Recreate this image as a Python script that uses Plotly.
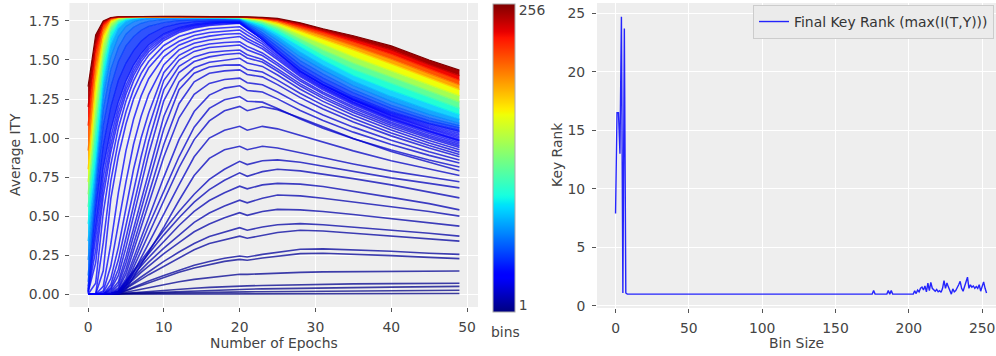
import plotly.graph_objects as go

# ---------------- data: left panel (Average I(T;Y) per epoch, one curve per bin count) -------------
epochs = [0, 1, 2, 3, 4, 5, 6, 7, 8, 10, 12, 14, 16, 18, 20, 21, 23, 25, 28, 31, 35, 40, 45, 49]

ity_bin01 = [0, 0, 0, 0, 0, 0, 0, 0, 0, 0.001, 0.001, 0.001, 0.002, 0.002, 0.002, 0.002, 0.002, 0.003, 0.003, 0.003, 0.003, 0.004, 0.004, 0.004]
ity_bin02 = [0, 0, 0, 0.001, 0.002, 0.003, 0.004, 0.005, 0.006, 0.008, 0.01, 0.011, 0.012, 0.014, 0.015, 0.015, 0.016, 0.017, 0.018, 0.019, 0.02, 0.022, 0.024, 0.025]
ity_bin03 = [0, 0, 0, 0.001, 0.002, 0.004, 0.006, 0.008, 0.01, 0.014, 0.018, 0.022, 0.026, 0.029, 0.032, 0.032, 0.034, 0.036, 0.038, 0.04, 0.042, 0.045, 0.047, 0.05]
ity_bin04 = [0, 0, 0, 0.001, 0.002, 0.006, 0.01, 0.014, 0.018, 0.025, 0.032, 0.038, 0.044, 0.049, 0.053, 0.053, 0.056, 0.058, 0.061, 0.063, 0.066, 0.068, 0.07, 0.07]
ity_bin05 = [0, 0, 0, 0.001, 0.003, 0.012, 0.022, 0.032, 0.042, 0.062, 0.08, 0.095, 0.107, 0.118, 0.128, 0.127, 0.132, 0.136, 0.14, 0.143, 0.145, 0.147, 0.148, 0.149]
ity_bin06 = [0, 0, 0, 0.001, 0.005, 0.022, 0.04, 0.058, 0.076, 0.11, 0.14, 0.168, 0.19, 0.21, 0.223, 0.217, 0.232, 0.245, 0.26, 0.262, 0.256, 0.247, 0.236, 0.228]
ity_bin07 = [0, 0, 0, 0.001, 0.005, 0.025, 0.045, 0.065, 0.085, 0.12, 0.155, 0.185, 0.21, 0.23, 0.245, 0.238, 0.255, 0.27, 0.288, 0.29, 0.285, 0.275, 0.262, 0.255]
ity_bin08 = [0, 0, 0, 0.002, 0.007, 0.035, 0.065, 0.095, 0.125, 0.18, 0.235, 0.285, 0.325, 0.35, 0.372, 0.358, 0.378, 0.395, 0.41, 0.405, 0.39, 0.372, 0.355, 0.34]
ity_bin09 = [0, 0, 0, 0.002, 0.008, 0.04, 0.075, 0.11, 0.145, 0.21, 0.27, 0.325, 0.37, 0.4, 0.426, 0.41, 0.43, 0.445, 0.452, 0.445, 0.43, 0.41, 0.39, 0.372]
ity_bin10 = [0, 0, 0, 0.002, 0.01, 0.05, 0.095, 0.14, 0.18, 0.26, 0.33, 0.4, 0.45, 0.49, 0.522, 0.505, 0.53, 0.543, 0.54, 0.53, 0.51, 0.485, 0.46, 0.436]
ity_bin11 = [0, 0, 0, 0.002, 0.01, 0.06, 0.11, 0.16, 0.205, 0.295, 0.38, 0.46, 0.52, 0.565, 0.602, 0.585, 0.615, 0.635, 0.63, 0.615, 0.59, 0.56, 0.53, 0.5]
ity_bin12 = [0, 0, 0, 0.003, 0.012, 0.07, 0.125, 0.18, 0.235, 0.34, 0.44, 0.53, 0.6, 0.65, 0.692, 0.675, 0.7, 0.71, 0.705, 0.69, 0.66, 0.62, 0.58, 0.54]
ity_bin13 = [0, 0, 0, 0.003, 0.015, 0.08, 0.14, 0.2, 0.26, 0.38, 0.49, 0.59, 0.67, 0.73, 0.777, 0.755, 0.785, 0.8, 0.79, 0.77, 0.74, 0.7, 0.655, 0.617]
ity_bin14 = [0, 0, 0, 0.004, 0.02, 0.085, 0.15, 0.215, 0.28, 0.41, 0.53, 0.64, 0.735, 0.8, 0.851, 0.83, 0.855, 0.86, 0.845, 0.82, 0.785, 0.745, 0.71, 0.681]
ity_bin15 = [0, 0, 0, 0, 0, 0.03, 0.11, 0.19, 0.27, 0.43, 0.6, 0.76, 0.87, 0.925, 0.947, 0.925, 0.947, 0.936, 0.906, 0.874, 0.834, 0.788, 0.75, 0.72]
ity_bin16 = [0, 0, 0, 0, 0.005, 0.05, 0.14, 0.235, 0.33, 0.52, 0.7, 0.88, 1.0, 1.05, 1.075, 1.05, 1.075, 1.059, 1.018, 0.974, 0.918, 0.855, 0.801, 0.76]
ity_bin17 = [0, 0, 0, 0, 0.01, 0.06, 0.17, 0.28, 0.39, 0.6, 0.81, 0.99, 1.11, 1.175, 1.203, 1.175, 1.2, 1.182, 1.129, 1.071, 0.997, 0.914, 0.844, 0.79]
ity_bin18 = [0, 0, 0, 0, 0.015, 0.08, 0.2, 0.32, 0.44, 0.66, 0.88, 1.07, 1.19, 1.245, 1.266, 1.236, 1.23, 1.189, 1.122, 1.063, 0.995, 0.923, 0.86, 0.815]
ity_bin19 = [0, 0, 0, 0, 0.02, 0.1, 0.23, 0.36, 0.49, 0.75, 0.99, 1.17, 1.275, 1.32, 1.335, 1.305, 1.295, 1.251, 1.177, 1.112, 1.038, 0.959, 0.889, 0.84]
ity_bin20 = [0, 0, 0, 0, 0.03, 0.13, 0.28, 0.43, 0.58, 0.88, 1.13, 1.28, 1.35, 1.375, 1.384, 1.354, 1.342, 1.295, 1.216, 1.148, 1.07, 0.986, 0.912, 0.86]
ity_bin21 = [0, 0, 0, 0.005, 0.04, 0.16, 0.32, 0.48, 0.64, 0.96, 1.22, 1.36, 1.415, 1.43, 1.437, 1.407, 1.392, 1.342, 1.259, 1.186, 1.103, 1.014, 0.936, 0.88]
ity_bin22 = [0, 0, 0, 0.01, 0.06, 0.2, 0.37, 0.54, 0.71, 1.06, 1.31, 1.415, 1.455, 1.467, 1.469, 1.439, 1.423, 1.371, 1.285, 1.211, 1.125, 1.033, 0.952, 0.895]
ity_bin23 = [0, 0, 0, 0.02, 0.08, 0.24, 0.42, 0.6, 0.78, 1.14, 1.36, 1.45, 1.485, 1.5, 1.511, 1.481, 1.459, 1.404, 1.313, 1.235, 1.146, 1.051, 0.969, 0.91]
ity_bin24 = [0, 0, 0, 0.03, 0.12, 0.3, 0.5, 0.7, 0.9, 1.24, 1.42, 1.49, 1.52, 1.535, 1.543, 1.513, 1.487, 1.428, 1.333, 1.254, 1.164, 1.067, 0.984, 0.925]
ity_bin25 = [0, 0, 0, 0.04, 0.16, 0.36, 0.57, 0.78, 0.98, 1.31, 1.46, 1.52, 1.548, 1.558, 1.564, 1.534, 1.503, 1.443, 1.347, 1.267, 1.176, 1.08, 0.999, 0.94]
ity_bin26 = [0, 0, 0, 0.06, 0.22, 0.44, 0.66, 0.88, 1.07, 1.37, 1.5, 1.555, 1.58, 1.59, 1.596, 1.566, 1.529, 1.466, 1.365, 1.283, 1.19, 1.092, 1.009, 0.95]
ity_bin27 = [0, 0, 0.01, 0.1, 0.3, 0.55, 0.8, 1.0, 1.16, 1.42, 1.53, 1.58, 1.602, 1.612, 1.617, 1.587, 1.545, 1.48, 1.377, 1.293, 1.2, 1.101, 1.018, 0.96]
ity_bin28 = [0, 0, 0.02, 0.18, 0.45, 0.72, 0.96, 1.14, 1.28, 1.47, 1.565, 1.607, 1.628, 1.64, 1.65, 1.62, 1.572, 1.502, 1.394, 1.309, 1.213, 1.113, 1.029, 0.97]
ity_bin29 = [0, 0, 0.05, 0.32, 0.65, 0.92, 1.12, 1.27, 1.38, 1.52, 1.595, 1.633, 1.653, 1.665, 1.67, 1.638, 1.587, 1.515, 1.404, 1.318, 1.222, 1.121, 1.039, 0.98]
ity_bin30 = [0, 0, 0.15, 0.61, 0.886, 1.09, 1.25, 1.36, 1.45, 1.56, 1.62, 1.657, 1.676, 1.686, 1.692, 1.66, 1.603, 1.527, 1.413, 1.325, 1.228, 1.126, 1.044, 0.985]
ity_bin31 = [0, 0, 0.33, 0.725, 0.98, 1.168, 1.31, 1.414, 1.49, 1.593, 1.65, 1.68, 1.7, 1.708, 1.713, 1.68, 1.618, 1.539, 1.421, 1.332, 1.233, 1.131, 1.049, 0.99]
ity_bin32 = [0, 0.07, 0.52, 0.83, 1.065, 1.237, 1.366, 1.462, 1.531, 1.625, 1.676, 1.705, 1.721, 1.73, 1.735, 1.7, 1.634, 1.552, 1.431, 1.341, 1.242, 1.14, 1.058, 1.0]
ity_bin33 = [0.01, 0.2, 0.626, 0.911, 1.124, 1.282, 1.4, 1.488, 1.553, 1.638, 1.685, 1.712, 1.727, 1.736, 1.738, 1.703, 1.634, 1.552, 1.431, 1.342, 1.244, 1.145, 1.065, 1.01]
ity_bin34 = [0.01, 0.28, 0.688, 0.957, 1.161, 1.311, 1.423, 1.507, 1.569, 1.648, 1.694, 1.719, 1.733, 1.741, 1.741, 1.706, 1.634, 1.551, 1.43, 1.342, 1.246, 1.15, 1.073, 1.02]
ity_bin35 = [0.02, 0.36, 0.75, 1.005, 1.197, 1.337, 1.444, 1.523, 1.582, 1.659, 1.701, 1.724, 1.737, 1.744, 1.744, 1.709, 1.634, 1.55, 1.429, 1.343, 1.249, 1.155, 1.081, 1.03]
ity_bin36 = [0.03, 0.42, 0.805, 1.05, 1.23, 1.364, 1.465, 1.539, 1.596, 1.667, 1.706, 1.728, 1.74, 1.747, 1.746, 1.711, 1.633, 1.548, 1.428, 1.344, 1.252, 1.16, 1.089, 1.04]

line_bins = list(range(1, 37))
line_curves = [ity_bin01, ity_bin02, ity_bin03, ity_bin04, ity_bin05, ity_bin06, ity_bin07, ity_bin08,
               ity_bin09, ity_bin10, ity_bin11, ity_bin12, ity_bin13, ity_bin14, ity_bin15, ity_bin16,
               ity_bin17, ity_bin18, ity_bin19, ity_bin20, ity_bin21, ity_bin22, ity_bin23, ity_bin24,
               ity_bin25, ity_bin26, ity_bin27, ity_bin28, ity_bin29, ity_bin30, ity_bin31, ity_bin32,
               ity_bin33, ity_bin34, ity_bin35, ity_bin36]

# dense part of the family (bins 40..256), sampled at these bin counts
ity_bin040 = [0.05, 0.55, 0.95, 1.2, 1.37, 1.48, 1.56, 1.62, 1.66, 1.71, 1.733, 1.744, 1.749, 1.751, 1.75, 1.715, 1.645, 1.565, 1.445, 1.36, 1.265, 1.17, 1.095, 1.05]
ity_bin048 = [0.08, 0.62, 1.08, 1.33, 1.49, 1.59, 1.65, 1.69, 1.715, 1.74, 1.752, 1.757, 1.759, 1.759, 1.755, 1.722, 1.66, 1.585, 1.47, 1.385, 1.29, 1.19, 1.112, 1.065]
ity_bin056 = [0.12, 0.68, 1.18, 1.44, 1.58, 1.665, 1.71, 1.735, 1.748, 1.76, 1.764, 1.765, 1.765, 1.764, 1.76, 1.73, 1.675, 1.605, 1.495, 1.41, 1.31, 1.21, 1.13, 1.08]
ity_bin066 = [0.22, 0.74, 1.26, 1.52, 1.65, 1.715, 1.745, 1.758, 1.764, 1.768, 1.769, 1.769, 1.768, 1.767, 1.763, 1.737, 1.69, 1.625, 1.52, 1.435, 1.335, 1.235, 1.15, 1.095]
ity_bin078 = [0.34, 0.8, 1.33, 1.59, 1.7, 1.745, 1.762, 1.768, 1.77, 1.771, 1.771, 1.771, 1.77, 1.769, 1.765, 1.743, 1.705, 1.648, 1.55, 1.465, 1.365, 1.265, 1.18, 1.12]
ity_bin092 = [0.45, 0.88, 1.4, 1.64, 1.73, 1.76, 1.768, 1.771, 1.772, 1.772, 1.772, 1.772, 1.772, 1.771, 1.767, 1.75, 1.72, 1.67, 1.585, 1.5, 1.4, 1.305, 1.22, 1.15]
ity_bin110 = [0.56, 1.0, 1.47, 1.68, 1.745, 1.765, 1.77, 1.772, 1.773, 1.773, 1.773, 1.773, 1.773, 1.772, 1.769, 1.756, 1.732, 1.692, 1.612, 1.532, 1.44, 1.35, 1.26, 1.19]
ity_bin130 = [0.64, 1.12, 1.53, 1.71, 1.757, 1.77, 1.773, 1.774, 1.774, 1.774, 1.774, 1.774, 1.774, 1.773, 1.771, 1.762, 1.743, 1.708, 1.637, 1.565, 1.48, 1.39, 1.3, 1.23]
ity_bin152 = [0.72, 1.24, 1.6, 1.735, 1.765, 1.773, 1.775, 1.775, 1.775, 1.775, 1.775, 1.775, 1.775, 1.774, 1.772, 1.766, 1.752, 1.722, 1.66, 1.6, 1.52, 1.43, 1.34, 1.27]
ity_bin176 = [0.8, 1.35, 1.65, 1.75, 1.77, 1.775, 1.776, 1.776, 1.776, 1.776, 1.776, 1.776, 1.776, 1.775, 1.774, 1.769, 1.758, 1.735, 1.685, 1.635, 1.565, 1.475, 1.383, 1.31]
ity_bin200 = [0.92, 1.45, 1.69, 1.76, 1.773, 1.776, 1.777, 1.777, 1.777, 1.777, 1.777, 1.777, 1.777, 1.776, 1.775, 1.771, 1.763, 1.745, 1.7, 1.655, 1.59, 1.505, 1.413, 1.34]
ity_bin222 = [1.08, 1.54, 1.72, 1.765, 1.775, 1.777, 1.778, 1.778, 1.778, 1.778, 1.778, 1.778, 1.778, 1.777, 1.776, 1.773, 1.767, 1.753, 1.715, 1.675, 1.615, 1.537, 1.443, 1.37]
ity_bin240 = [1.2, 1.6, 1.74, 1.77, 1.776, 1.778, 1.778, 1.778, 1.778, 1.778, 1.778, 1.778, 1.778, 1.778, 1.777, 1.775, 1.77, 1.76, 1.728, 1.69, 1.635, 1.565, 1.47, 1.4]
ity_bin256 = [1.33, 1.66, 1.75, 1.772, 1.777, 1.778, 1.779, 1.779, 1.779, 1.779, 1.779, 1.779, 1.779, 1.779, 1.778, 1.776, 1.773, 1.766, 1.738, 1.7, 1.655, 1.59, 1.5, 1.435]

band_bins = [40, 48, 56, 66, 78, 92, 110, 130, 152, 176, 200, 222, 240, 256]
band_curves = [ity_bin040, ity_bin048, ity_bin056, ity_bin066, ity_bin078, ity_bin092, ity_bin110,
               ity_bin130, ity_bin152, ity_bin176, ity_bin200, ity_bin222, ity_bin240, ity_bin256]

# ---------------- data: right panel (final key rank vs bin size) ----------------
rank_bins = [0, 1, 2, 3, 4, 5, 6, 7, 8, 175, 176, 177, 185, 186, 187, 188, 189, 203,
             204, 205, 206, 207, 208, 209, 210, 211, 212, 213, 214, 215, 216, 217, 218, 219,
             220, 221, 222, 223, 224, 225, 226, 227, 228, 229, 230, 231, 232, 233, 234, 235,
             236, 237, 238, 239, 240, 241, 242, 243, 244, 245, 246, 247, 248, 249, 250, 251,
             252, 253]
rank_values = [7.9, 16.5, 16.5, 13.0, 24.7, 1.1, 23.7, 1.1, 1.0, 1.0, 1.3, 1.0, 1.0, 1.3, 1.0, 1.3, 1.0, 1.0,
               1.28, 1.05, 1.35, 1.2, 1.5, 1.6, 1.35, 1.7, 1.2, 1.95, 1.3, 2.0, 1.5, 1.35, 1.25, 1.4,
               1.2, 1.3, 1.15, 1.5, 2.15, 1.5, 1.95, 1.6, 1.35, 1.0, 1.45, 1.2, 1.3, 1.5, 1.8, 2.1,
               1.5, 1.25, 1.65, 1.95, 2.45, 1.5, 1.8, 1.6, 1.7, 1.5, 1.65, 1.5, 1.8, 1.25, 1.65, 2.05,
               1.5, 1.1]

# ---------------- styling helpers ----------------
W, H = 996, 356
FONT = "DejaVu Sans"
FS = 13.9
TXT = "#444444"
BG = "#EEEEEE"
BG_RGB = (238, 238, 238)


def _interp(pts, t):
    for (x0, y0), (x1, y1) in zip(pts[:-1], pts[1:]):
        if t <= x1:
            return y0 + (y1 - y0) * (t - x0) / (x1 - x0) if x1 > x0 else y1
    return pts[-1][1]


def jet_rgb(t):
    r = _interp([(0, 0), (0.35, 0), (0.66, 1), (0.89, 1), (1, 0.5)], t)
    g = _interp([(0, 0), (0.125, 0), (0.375, 1), (0.64, 1), (0.91, 0), (1, 0)], t)
    b = _interp([(0, 0.5), (0.11, 1), (0.34, 1), (0.65, 0), (1, 0)], t)
    return (r * 255, g * 255, b * 255)


def jet(t, alpha=None):
    r, g, b = jet_rgb(t)
    if alpha is None:
        return "rgb(%d,%d,%d)" % (round(r), round(g), round(b))
    return "rgba(%d,%d,%d,%.2f)" % (round(r), round(g), round(b), alpha)


def jet_on_bg(t, a):
    c = jet_rgb(t)
    return "rgb(%d,%d,%d)" % tuple(round(a * c[i] + (1 - a) * BG_RGB[i]) for i in range(3))


def bin_t(b):
    return (b - 1) / 255.0


fig = go.Figure()

# distinct low-bin curves
for b, ys in zip(line_bins, line_curves):
    fig.add_trace(go.Scatter(x=epochs, y=ys, mode="lines", showlegend=False, hoverinfo="skip",
                             line=dict(color=jet(bin_t(b), 0.75), width=1.6),
                             xaxis="x", yaxis="y"))

# dense high-bin curves drawn as a filled band (first one fills down to the last distinct curve)
prev_b = line_bins[-1]
for b, ys in zip(band_bins, band_curves):
    mid = (b + prev_b) / 2.0
    a = 0.8 if mid < 70 else (0.9 if mid < 100 else 1.0)
    fig.add_trace(go.Scatter(x=epochs, y=ys, mode="lines", showlegend=False, hoverinfo="skip",
                             line=dict(color=jet(bin_t(b), 0.85 if b < 100 else 1.0), width=1.2),
                             fill="tonexty", fillcolor=jet_on_bg(bin_t(mid), a),
                             xaxis="x", yaxis="y"))
    prev_b = b

# colour bar (bins)
cs = [[i / 100.0, jet(i / 100.0)] for i in range(101)]
fig.add_trace(go.Scatter(
    x=[-100], y=[-100], mode="markers", showlegend=False, hoverinfo="skip",
    marker=dict(color=[1], colorscale=cs, cmin=-5, cmax=261, showscale=True, size=1,
                colorbar=dict(thickness=22, thicknessmode="pixels",
                              len=308 / H, lenmode="fraction",
                              x=493 / W, xanchor="left", xref="paper",
                              y=(H - 312) / H, yanchor="bottom", yref="paper",
                              xpad=0, ypad=0, outlinewidth=1, outlinecolor="#aaaaaa",
                              tickvals=[1, 256], ticktext=["1", "256"], ticks="",
                              tickfont=dict(family=FONT, size=FS, color=TXT))),
    xaxis="x", yaxis="y"))

# right panel
fig.add_trace(go.Scatter(x=rank_bins, y=rank_values, mode="lines",
                         name="Final Key Rank (max(I(T,Y)))",
                         line=dict(color="rgba(0,0,255,0.85)", width=1.4),
                         xaxis="x2", yaxis="y2"))

axis_common = dict(showgrid=True, gridcolor="white", gridwidth=1, zeroline=False,
                   showline=False, ticks="outside", ticklen=4, tickwidth=1, tickcolor="#555555",
                   automargin=False,
                   tickfont=dict(family=FONT, size=FS, color=TXT))

fig.update_layout(
    width=W, height=H,
    margin=dict(l=0, r=0, t=0, b=0, autoexpand=False),
    paper_bgcolor="white", plot_bgcolor=BG,
    font=dict(family=FONT, size=FS, color=TXT),
    xaxis=dict(domain=[69.5 / W, 478 / W], range=[-2.45, 51.45],
               tickvals=[0, 10, 20, 30, 40, 50], ticklabelstandoff=3, anchor="y", **axis_common),
    yaxis=dict(domain=[(H - 307) / H, (H - 3) / H], range=[-0.082, 1.865],
               tickvals=[0, 0.25, 0.5, 0.75, 1.0, 1.25, 1.5, 1.75], tickformat=".2f",
               ticklabelstandoff=2, anchor="x", **axis_common),
    xaxis2=dict(domain=[597 / W, 1.0], range=[-12.65, 259.45],
                tickvals=[0, 50, 100, 150, 200, 250], ticklabelstandoff=3, anchor="y2", **axis_common),
    yaxis2=dict(domain=[(H - 308) / H, (H - 3) / H], range=[-0.185, 25.885],
                tickvals=[0, 5, 10, 15, 20, 25], ticklabelstandoff=4, anchor="x2", **axis_common),
    legend=dict(x=753 / W, y=(H - 5) / H, xanchor="left", yanchor="top", itemwidth=30,
                bgcolor="#EBEBEB", bordercolor="#CCCCCC", borderwidth=1,
                font=dict(family=FONT, size=FS, color="#333333")),
    annotations=[
        dict(text="Average ITY", x=15 / W, y=(H - 155) / H, xref="paper", yref="paper",
             textangle=-90, showarrow=False, xanchor="center", yanchor="middle",
             font=dict(family=FONT, size=FS, color=TXT)),
        dict(text="Number of Epochs", x=273.5 / W, y=(H - 343) / H, xref="paper", yref="paper",
             showarrow=False, xanchor="center", yanchor="middle",
             font=dict(family=FONT, size=FS, color=TXT)),
        dict(text="bins", x=489 / W, y=(H - 332) / H, xref="paper", yref="paper",
             showarrow=False, xanchor="left", yanchor="middle",
             font=dict(family=FONT, size=FS, color=TXT)),
        dict(text="Key Rank", x=557 / W, y=(H - 155) / H, xref="paper", yref="paper",
             textangle=-90, showarrow=False, xanchor="center", yanchor="middle",
             font=dict(family=FONT, size=FS, color=TXT)),
        dict(text="Bin Size", x=796 / W, y=(H - 343) / H, xref="paper", yref="paper",
             showarrow=False, xanchor="center", yanchor="middle",
             font=dict(family=FONT, size=FS, color=TXT)),
    ],
)

fig.write_html("out.html", config={"displayModeBar": False, "staticPlot": True},
               post_script="document.body.style.margin='0';document.body.style.padding='0';"
                           "document.body.style.overflow='hidden';")
